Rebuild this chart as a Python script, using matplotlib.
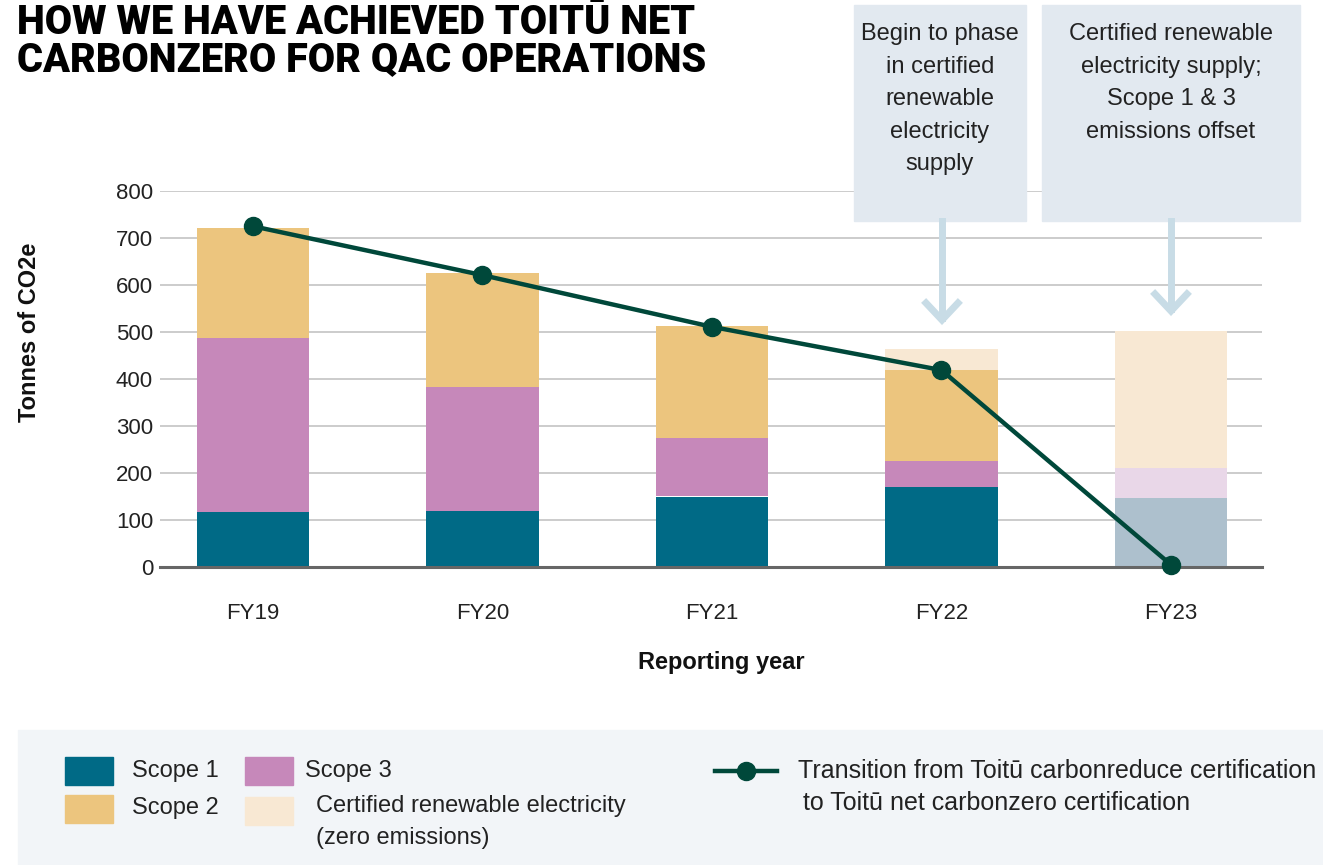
import matplotlib
matplotlib.use("Agg")
import matplotlib.pyplot as plt
import numpy as np
from matplotlib.patches import Rectangle
from matplotlib.lines import Line2D

plt.rcParams["font.family"] = ["Liberation Sans", "DejaVu Sans"]

# ---- data (tonnes CO2e) ----
years = ["FY19", "FY20", "FY21", "FY22", "FY23"]
scope1 = [116, 119, 150, 171, 147]
scope3 = [372, 264, 125, 55, 64]
scope2 = [234, 243, 238, 193, 0]
renewable = [0, 0, 0, 45, 291]
transition = [725, 621, 511, 419, 5]
offset_year = "FY23"   # scope 1 & 3 offset -> faded

C_S1, C_S1_OFF = "#006a86", "#adc0cd"
C_S3, C_S3_OFF = "#c688ba", "#e9d7e8"
C_S2 = "#ecc57e"
C_REN = "#f8e8d3"
C_LINE = "#00483a"
C_BOX = "#e2e9f0"
C_ARROW = "#c8dce6"
C_TXT = "#222222"

W, H = 1323, 865
fig = plt.figure(figsize=(W / 100, H / 100), dpi=100)


def fx(x):
    return x / W


def fy(y):
    return 1 - y / H


ax = fig.add_axes([fx(160), fy(567), fx(1262) - fx(160), fy(191) - fy(567)])

x = np.arange(len(years))
off = [y == offset_year for y in years]
s1c = [C_S1_OFF if o else C_S1 for o in off]
s3c = [C_S3_OFF if o else C_S3 for o in off]
bw = 0.49
b1 = np.array(scope1)
b3 = b1 + np.array(scope3)
b2 = b3 + np.array(scope2)
ax.bar(x, scope1, bw, color=s1c, zorder=2)
ax.bar(x, scope3, bw, bottom=b1, color=s3c, zorder=2)
ax.bar(x, scope2, bw, bottom=b3, color=C_S2, zorder=2)
ax.bar(x, renewable, bw, bottom=b2, color=C_REN, zorder=2)
ax.plot(x, transition, color=C_LINE, lw=3.2, marker="o", ms=13, zorder=4,
        clip_on=False)

ax.set_xlim(-0.405, 4.397)
ax.set_ylim(0, 800)
ax.set_yticks(range(0, 801, 100))
ax.set_xticks(x, years)
ax.grid(axis="y", color="#c8c8c8", lw=1.3, zorder=0)
ax.set_axisbelow(True)
for s in ["top", "right", "left"]:
    ax.spines[s].set_visible(False)
ax.spines["bottom"].set_color("#666666")
ax.spines["bottom"].set_linewidth(2.2)
ax.spines["bottom"].set_zorder(3)
ax.tick_params(axis="both", length=0, labelsize=16, colors=C_TXT)
ax.tick_params(axis="y", pad=5)
ax.tick_params(axis="x", pad=26)
fig.text(fx(30), fy(332), "Tonnes of CO2e", rotation=90, fontsize=17,
         fontweight="bold", ha="center", va="center", color="#111111")
fig.text(fx(721), fy(662), "Reporting year", fontsize=17, fontweight="bold",
         ha="center", va="center", color="#111111")

# ---- title ----
fig.text(fx(17), fy(3), "HOW WE HAVE ACHIEVED TOITŪ NET\nCARBONZERO FOR QAC OPERATIONS",
         fontsize=28.5, fontweight="black", family=["Roboto", "DejaVu Sans"],
         va="top", ha="left", linespacing=0.95)

# ---- annotation boxes with arrows ----
boxes = [
    (854, 1026, 940, 942, 320, "Begin to phase\nin certified\nrenewable\nelectricity\nsupply"),
    (1042, 1300, 1171, 1171, 311, "Certified renewable\nelectricity supply;\nScope 1 & 3\nemissions offset"),
]
for x0, x1, xt, xa, tip, txt in boxes:
    fig.add_artist(Rectangle((fx(x0), fy(221)), fx(x1) - fx(x0), fy(5) - fy(221),
                             transform=fig.transFigure, color=C_BOX, zorder=5))
    fig.text(fx(xt), fy(23), txt, ha="center", va="top", fontsize=17,
             color=C_TXT, linespacing=1.62, zorder=6)
    fig.add_artist(Line2D([fx(xa), fx(xa)], [fy(221), fy(tip - 2)],
                          transform=fig.transFigure, color=C_ARROW, lw=5, zorder=5))
    fig.add_artist(Line2D([fx(xa - 16), fx(xa), fx(xa + 16)],
                          [fy(tip - 17), fy(tip), fy(tip - 17)],
                          transform=fig.transFigure, color=C_ARROW, lw=5,
                          solid_joinstyle="miter", zorder=5))

# ---- legend panel ----
fig.add_artist(Rectangle((fx(18), 0), 1 - fx(18), fy(730), transform=fig.transFigure,
                         color="#f2f5f8", zorder=0))
legend_items = [
    (65, 757, C_S1, 132, 771, "Scope 1"),
    (245, 757, C_S3, 305, 771, "Scope 3"),
    (65, 795, C_S2, 132, 808, "Scope 2"),
    (245, 797, C_REN, 316, 806, "Certified renewable electricity"),
]
for px, py, c, tx, ty, lab in legend_items:
    fig.add_artist(Rectangle((fx(px), fy(py + 28)), fx(48), 28 / H,
                             transform=fig.transFigure, color=c, zorder=1))
    fig.text(fx(tx), fy(ty), lab, fontsize=17, va="center", ha="left", color=C_TXT)
fig.text(fx(316), fy(838), "(zero emissions)", fontsize=17, va="center", ha="left",
         color=C_TXT)
fig.add_artist(Line2D([fx(715), fx(777)], [fy(771), fy(771)], transform=fig.transFigure,
                      color=C_LINE, lw=3.2, zorder=1))
fig.add_artist(Line2D([fx(746)], [fy(771)], transform=fig.transFigure, color=C_LINE,
                      marker="o", ms=13, zorder=1))
fig.text(fx(798), fy(771), "Transition from Toitū carbonreduce certification", fontsize=18,
         va="center", ha="left", color=C_TXT)
fig.text(fx(803), fy(803), "to Toitū net carbonzero certification", fontsize=18,
         va="center", ha="left", color=C_TXT)

fig.savefig("out.png", dpi=100)
